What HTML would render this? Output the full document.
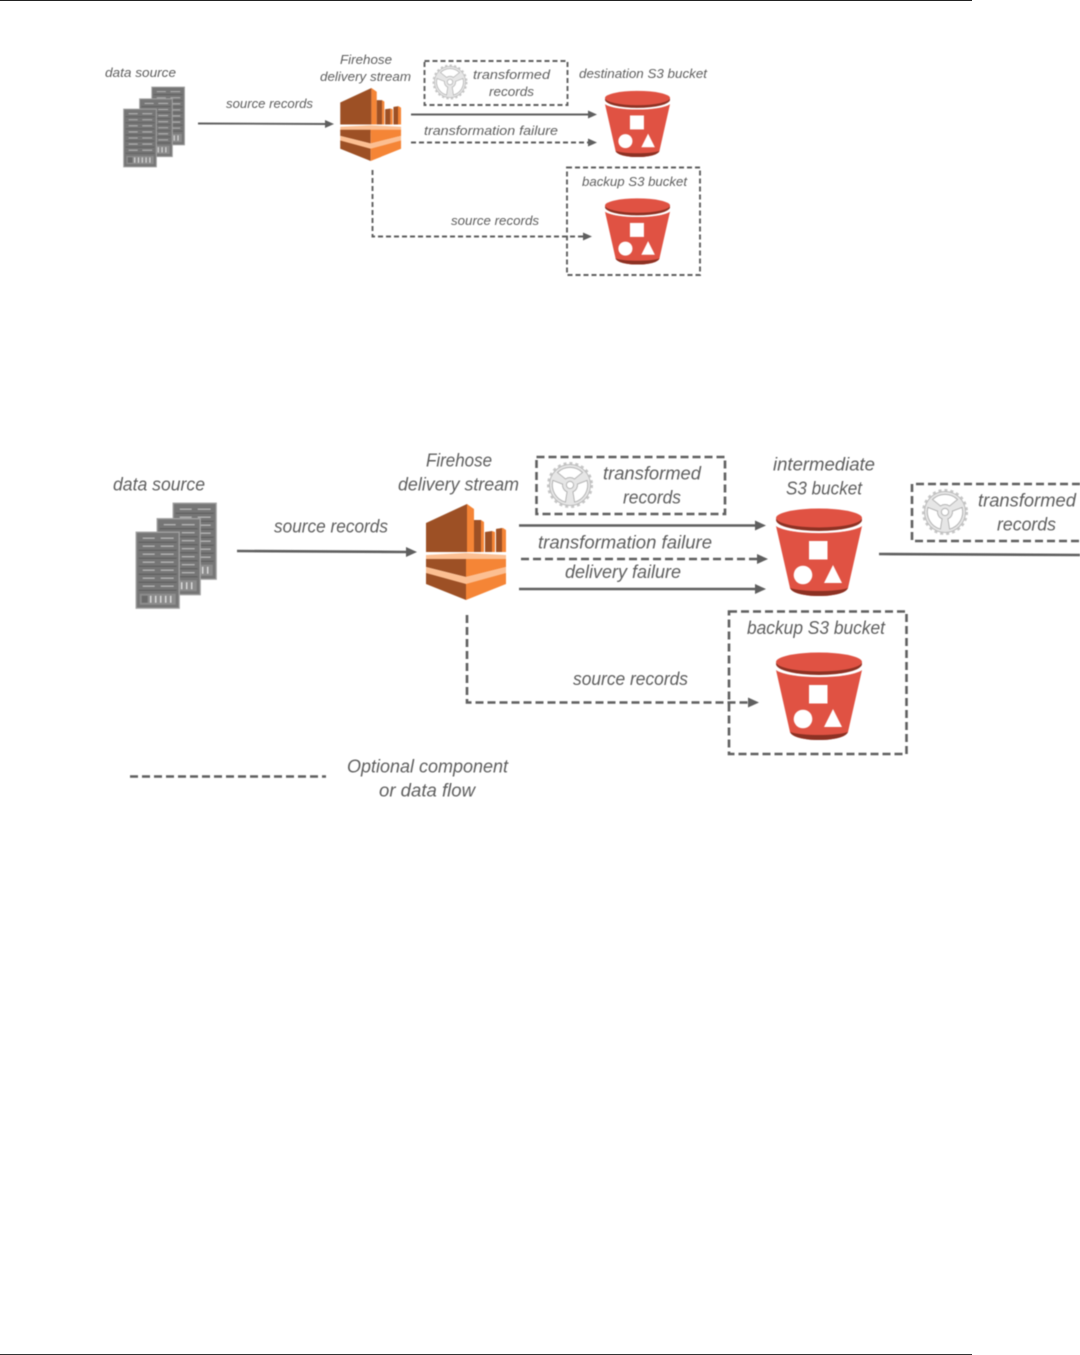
<!DOCTYPE html>
<html><head><meta charset="utf-8"><style>
html,body{margin:0;padding:0;background:#fff;width:1080px;height:1355px;overflow:hidden}
#w{position:relative;width:1080px;height:1355px;overflow:hidden}
#t{position:absolute;left:0;top:0;width:972px;height:1px;background:#222}
#b{position:absolute;left:0;top:1354px;width:972px;height:1px;background:#333}
svg{position:absolute;left:0;top:0;filter:blur(.5px)}
text{font-family:"Liberation Sans",sans-serif;font-style:italic;fill:#5e5e5e}
.s{font-size:13px}.l{font-size:18px}
.ln{stroke:#5f5f5f;fill:none;stroke-width:1.9}
.ls{stroke:#5f5f5f;fill:none;stroke-width:1.9;stroke-dasharray:5 3}
.bn{stroke:#5f5f5f;fill:none;stroke-width:2.6}
.bs{stroke:#5f5f5f;fill:none;stroke-width:2.6;stroke-dasharray:8 4}
.h{fill:#5f5f5f}
</style></head><body><div id="w"><div id="t"></div><div id="b"></div>
<svg width="1080" height="1355" viewBox="0 0 1080 1355" xmlns="http://www.w3.org/2000/svg">
<defs>
<g id="bucket">
<path d="M0 18C12 27 74 27 86 18L72 80C70 85 58 88 43 88C28 88 16 85 14 80Z" fill="#e05243"/>
<path d="M14 80C26 84 60 84 72 80C70 85 58 88 43 88C28 88 16 85 14 80Z" fill="#8c3123"/>
<ellipse cx="43" cy="12" rx="43" ry="11" fill="#8c3123"/>
<ellipse cx="43" cy="10" rx="43" ry="9.5" fill="#e05243"/>
<path d="M0 17C12 27 74 27 86 17" fill="none" stroke="#fff" stroke-width="1.3"/>
<rect x="33" y="33" width="18.500" height="18.500" fill="#fff"/>
<circle cx="27" cy="67" r="9.300" fill="#fff"/>
<path d="M57 57L66 75H48Z" fill="#fff"/>
</g>
<g id="firehose">
<path d="M1 19L42 0V48H1Z" fill="#9d5025"/>
<path d="M42 0L49 5V48H42Z" fill="#f58536"/>
<path d="M49 16L56 16V48H49Z" fill="#9d5025"/>
<path d="M56 16L59 18V48H56Z" fill="#f58536"/>
<path d="M60 28L67 27V48H60Z" fill="#9d5025"/>
<path d="M67 27L70 28V48H67Z" fill="#f58536"/>
<path d="M71 25L78 24L81 26V48H71Z" fill="#f58536"/>
<path d="M71 25L77 24V48H71Z" fill="#9d5025"/>
<path d="M1 51L41 49L81 51V57L41 59L1 57Z" fill="#fcbf92"/>
<path d="M1 55H41V73L1 63Z" fill="#9d5025"/>
<path d="M41 55H81V63L41 73Z" fill="#f58536"/>
<path d="M1 63L41 73L81 63V70L41 81L1 70Z" fill="#fcbf92"/>
<path d="M1 69L41 80V96L1 80Z" fill="#9d5025"/>
<path d="M81 69L41 80V96L81 80Z" fill="#f58536"/>
</g>
<g id="rack">
<rect x=".5" y=".5" width="43" height="76" fill="#767676" stroke="#a3a3a3" stroke-width="1.300"/>
<g stroke="#5c5c5c" stroke-width="1" fill="none"><path d="M3 10.500H41M3 18.500H41M3 26.500H41M3 34.500H41M3 42.500H41M3 50.500H41M3 58.500H41"/></g>
<g stroke="#b4b4b4" stroke-width="1.400" fill="none"><path d="M7 6.500H19M25 6.500H38M7 14.500H19M25 14.500H38M7 22.500H19M25 22.500H38M7 30.500H19M25 30.500H38M7 38.500H19M25 38.500H38M7 46.500H19M25 46.500H38M7 54.500H19M25 54.500H38"/></g>
<rect x="4" y="62" width="36" height="11" fill="#8c8c8c"/>
<g stroke="#dadada" stroke-width="1.500"><path d="M15 64V71M20 64V71M25 64V71M30 64V71M35 64V71"/></g>
<rect x="6" y="64" width="6" height="7" fill="#6a6a6a"/>
</g>
<g id="servers">
<use href="#rack" x="37" y="0"/>
<use href="#rack" x="21" y="15.500"/>
<use href="#rack" x="0" y="29"/>
</g>
<g id="gear">
<circle r="21.800" fill="none" stroke="#c6c6c6" stroke-width="2.400" stroke-dasharray="3 3"/>
<circle r="20.500" fill="#e6e6e6" stroke="#bdbdbd" stroke-width="1"/>
<g fill="#fff" stroke="#b4b4b4" stroke-width="1">
<path d="M-12.500-12.500A17.700 17.700 0 0 1 12.500-12.500L4.500-6A7.500 7.500 0 0 0-4.500-6Z"/>
<path d="M-12.500-12.500A17.700 17.700 0 0 1 12.500-12.500L4.500-6A7.500 7.500 0 0 0-4.500-6Z" transform="rotate(120)"/>
<path d="M-12.500-12.500A17.700 17.700 0 0 1 12.500-12.500L4.500-6A7.500 7.500 0 0 0-4.500-6Z" transform="rotate(240)"/>
<circle r="3.600"/>
</g>
</g>
</defs>

<!-- top diagram -->
<use href="#servers" transform="translate(123.300 86.700) scale(.76)"/>
<use href="#firehose" transform="translate(339.500 88) scale(.76)"/>
<use href="#bucket" transform="translate(605 90.500) scale(.756)"/>
<use href="#bucket" transform="translate(605 198) scale(.756)"/>
<use href="#gear" transform="translate(450 82) scale(.76)"/>

<rect class="ls" x="424.500" y="61" width="143" height="44"/>
<rect class="ls" x="567" y="167.500" width="133" height="107.500"/>

<path class="ln" d="M198 123.500L327 124"/><path class="h" d="M334 124L325 120V128Z"/>
<path class="ln" d="M411 114.500H590"/><path class="h" d="M597 114.500L588 110.500V118.500Z"/>
<path class="ls" d="M411 142.500H590"/><path class="h" d="M597 142.500L588 138.500V146.500Z"/>
<path class="ls" d="M372.500 170V236.500H585"/><path class="h" d="M592 236.500L583 232.500V240.500Z"/>

<g class="s">
<text x="105" y="77" textLength="71" lengthAdjust="spacingAndGlyphs">data source</text>
<text x="340" y="64" textLength="52" lengthAdjust="spacingAndGlyphs">Firehose</text>
<text x="320" y="81" textLength="91" lengthAdjust="spacingAndGlyphs">delivery stream</text>
<text x="226" y="108" textLength="87" lengthAdjust="spacingAndGlyphs">source records</text>
<text x="473" y="79" textLength="77" lengthAdjust="spacingAndGlyphs">transformed</text>
<text x="489" y="96" textLength="45" lengthAdjust="spacingAndGlyphs">records</text>
<text x="579" y="78" textLength="128" lengthAdjust="spacingAndGlyphs">destination S3 bucket</text>
<text x="424" y="135" textLength="134" lengthAdjust="spacingAndGlyphs">transformation failure</text>
<text x="582" y="186" textLength="105" lengthAdjust="spacingAndGlyphs">backup S3 bucket</text>
<text x="451" y="225" textLength="88" lengthAdjust="spacingAndGlyphs">source records</text>
</g>

<!-- lower diagram -->
<use href="#servers" transform="translate(135.700 502.700)"/>
<use href="#firehose" transform="translate(425 504)"/>
<use href="#bucket" transform="translate(776 508)"/>
<use href="#bucket" transform="translate(776 652)"/>
<use href="#gear" transform="translate(570 485)"/>
<use href="#gear" transform="translate(945 512)"/>

<rect class="bs" x="536.500" y="457" width="188.500" height="57"/>
<path class="bs" d="M1080 484H912V541H1080"/>
<rect class="bs" x="729" y="611.500" width="177.500" height="142.500"/>

<path class="bn" d="M237 551L408 552"/><path class="h" d="M417 552L406 547V557Z"/>
<path class="bn" d="M519 525.500H757"/><path class="h" d="M766 525.500L755 520.500V530.500Z"/>
<path class="bs" d="M521 559H759"/><path class="h" d="M768 559L757 554V564Z"/>
<path class="bn" d="M519 589H757"/><path class="h" d="M766 589L755 584V594Z"/>
<path class="bn" d="M879 554L1080 555"/>
<path class="bs" d="M467 615V702.500H750"/><path class="h" d="M759 702.500L748 697.500V707.500Z"/>
<path class="bs" d="M130 776.500H326"/>

<g class="l">
<text x="113" y="490.500" textLength="92" lengthAdjust="spacingAndGlyphs">data source</text>
<text x="426" y="466.500" textLength="66" lengthAdjust="spacingAndGlyphs">Firehose</text>
<text x="398" y="490.500" textLength="121" lengthAdjust="spacingAndGlyphs">delivery stream</text>
<text x="274" y="532.500" textLength="114" lengthAdjust="spacingAndGlyphs">source records</text>
<text x="603" y="479.500" textLength="98" lengthAdjust="spacingAndGlyphs">transformed</text>
<text x="623" y="503.500" textLength="58" lengthAdjust="spacingAndGlyphs">records</text>
<text x="773" y="470.500" textLength="102" lengthAdjust="spacingAndGlyphs">intermediate</text>
<text x="786" y="494.500" textLength="76" lengthAdjust="spacingAndGlyphs">S3 bucket</text>
<text x="978" y="506.500" textLength="98" lengthAdjust="spacingAndGlyphs">transformed</text>
<text x="997" y="530.500" textLength="59" lengthAdjust="spacingAndGlyphs">records</text>
<text x="538" y="548.500" textLength="174" lengthAdjust="spacingAndGlyphs">transformation failure</text>
<text x="565" y="578" textLength="116" lengthAdjust="spacingAndGlyphs">delivery failure</text>
<text x="747" y="634" textLength="138" lengthAdjust="spacingAndGlyphs">backup S3 bucket</text>
<text x="573" y="685" textLength="115" lengthAdjust="spacingAndGlyphs">source records</text>
<text x="347" y="772.500" textLength="161" lengthAdjust="spacingAndGlyphs">Optional component</text>
<text x="379" y="796.500" textLength="96" lengthAdjust="spacingAndGlyphs">or data flow</text>
</g>
</svg></div></body></html>
